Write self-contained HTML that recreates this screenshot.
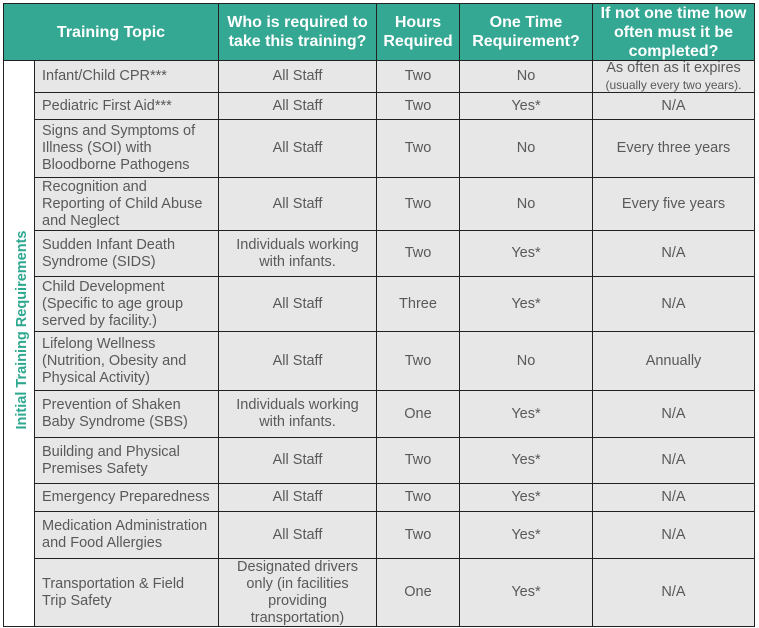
<!DOCTYPE html>
<html><head><style>
body{margin:0;background:#fff;width:759px;height:628px;position:relative;overflow:hidden;font-family:"Liberation Sans",Arial,sans-serif}
.c{position:absolute;box-sizing:border-box;display:flex;align-items:center;justify-content:center;text-align:center;color:#595959;font-size:14.5px;line-height:17px;background:#e7e7e7;border-right:1px solid #222;border-bottom:1px solid #222}
.l{justify-content:flex-start;text-align:left;padding-left:7px}
.h{background:#35a894;color:#fff;font-weight:bold;font-size:16px;line-height:19px}
</style></head><body>
<div style="position:absolute;left:3px;top:3px;width:752px;height:624px;border:1px solid #222;box-sizing:border-box"></div>
<div class="c h" style="left:4px;top:4px;width:215px;height:57px"><div>Training Topic</div></div>
<div class="c h" style="left:219px;top:4px;width:158px;height:57px"><div>Who is required to<br>take this training?</div></div>
<div class="c h" style="left:377px;top:4px;width:83px;height:57px"><div>Hours<br>Required</div></div>
<div class="c h" style="left:460px;top:4px;width:133px;height:57px"><div>One Time<br>Requirement?</div></div>
<div class="c h" style="left:593px;top:4px;width:162px;height:57px"><div>If not one time how<br>often must it be<br>completed?</div></div>
<div style="position:absolute;left:34px;top:61px;width:1px;height:566px;background:#222"></div>
<div style="position:absolute;left:22px;top:330px;transform:translate(-50%,-50%) rotate(-90deg);white-space:nowrap;color:#2ea88f;font-weight:bold;font-size:14.5px">Initial Training Requirements</div>
<div id="rows"></div>
<script>
var rows=[
[61,93,"Infant/Child CPR***","All Staff","Two","No","As often as it expires<br><span style='font-size:12px;line-height:14px'>(usually every two years).</span>"],
[93,120,"Pediatric First Aid***","All Staff","Two","Yes*","N/A"],
[120,178,"Signs and Symptoms of<br>Illness (SOI) with<br>Bloodborne Pathogens","All Staff","Two","No","Every three years"],
[178,231,"Recognition and<br>Reporting of Child Abuse<br>and Neglect","All Staff","Two","No","Every five years"],
[231,277,"Sudden Infant Death<br>Syndrome (SIDS)","Individuals working<br>with infants.","Two","Yes*","N/A"],
[277,332,"Child Development<br>(Specific to age group<br>served by facility.)","All Staff","Three","Yes*","N/A"],
[332,391,"Lifelong Wellness<br>(Nutrition, Obesity and<br>Physical Activity)","All Staff","Two","No","Annually"],
[391,438,"Prevention of Shaken<br>Baby Syndrome (SBS)","Individuals working<br>with infants.","One","Yes*","N/A"],
[438,484,"Building and Physical<br>Premises Safety","All Staff","Two","Yes*","N/A"],
[484,512,"Emergency Preparedness","All Staff","Two","Yes*","N/A"],
[512,559,"Medication Administration<br>and Food Allergies","All Staff","Two","Yes*","N/A"],
[559,627,"Transportation &amp; Field<br>Trip Safety","Designated drivers<br>only (in facilities<br>providing<br>transportation)","One","Yes*","N/A"]];
var cols=[[35,219],[219,377],[377,460],[460,593],[593,755]];
var h="";
rows.forEach(function(r){for(var i=0;i<5;i++){h+='<div class="c'+(i==0?' l':'')+'" style="left:'+cols[i][0]+'px;top:'+r[0]+'px;width:'+(cols[i][1]-cols[i][0])+'px;height:'+(r[1]-r[0])+'px"><div>'+r[i+2]+'</div></div>';}});
document.getElementById("rows").innerHTML=h;
</script>
</body></html>
